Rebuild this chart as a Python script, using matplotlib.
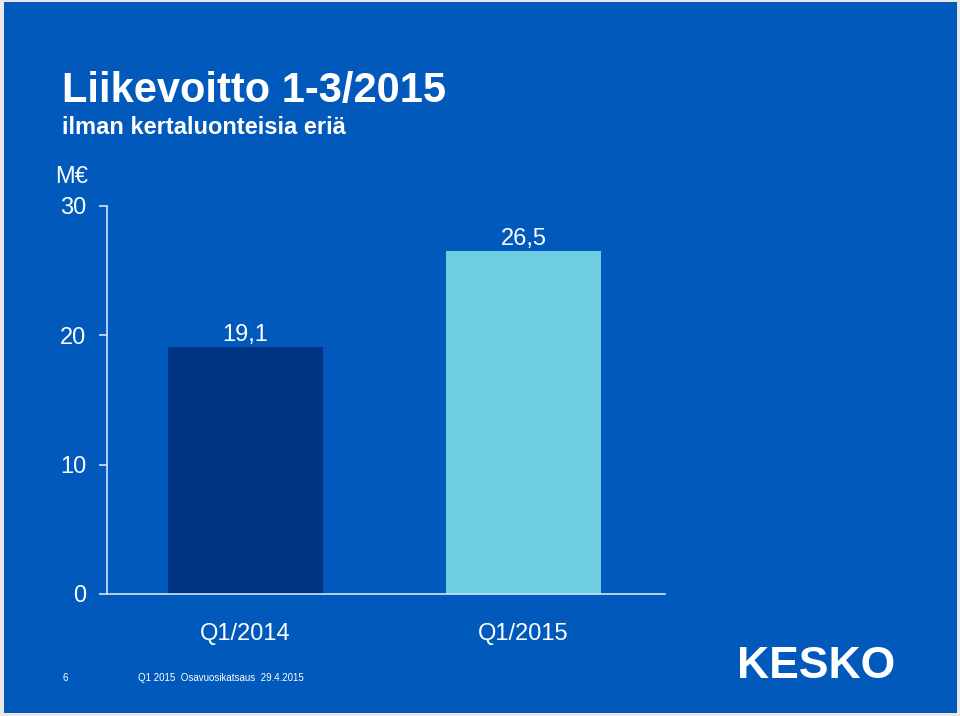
"""
Liikevoitto 1-3/2015 bar chart (Kesko Q1 2015 slide).
"""
import matplotlib.pyplot as plt
from matplotlib.patches import Rectangle

categories = ["Q1/2014", "Q1/2015"]
values = [19.1, 26.5]
value_labels = ["19,1", "26,5"]
y_ticks = [0, 10, 20, 30]

BG = "#0059BB"
BAR_COLORS = ["#003381", "#6FCDE2"]
AXIS_COLOR = "#CFE6F5"
FONT = "Liberation Sans"

plt.rcParams["font.family"] = [FONT, "DejaVu Sans"]

fig = plt.figure(figsize=(9.6, 7.16), dpi=100)
fig.patch.set_facecolor("#E8E8E8")
fig.patches.append(Rectangle((4 / 960, 3 / 716), 953 / 960, 711 / 716,
                             transform=fig.transFigure, facecolor=BG,
                             edgecolor="none", zorder=-10))

ax = fig.add_axes([107 / 960, 1 - 594 / 716, 558 / 960, 388 / 716])
ax.set_facecolor("none")
ax.set_zorder(5)

x = list(range(len(categories)))
ax.bar(x, values, width=0.558, color=BAR_COLORS, zorder=2)
for xi, v, lab in zip(x, values, value_labels):
    ax.text(xi, v + 0.1, lab, ha="center", va="bottom",
            fontsize=17, color="white")

ax.set_xlim(-0.498, 1.509)
ax.set_ylim(0, 30)
ax.set_yticks(y_ticks)
ax.set_yticklabels([str(t) for t in y_ticks], fontsize=17, color="white")
ax.set_xticks(x)
ax.set_xticklabels(categories, fontsize=17, color="white")
ax.tick_params(axis="y", direction="out", length=6, width=1.2,
               color=AXIS_COLOR, pad=9)
ax.tick_params(axis="x", length=0, pad=21)

for side in ["top", "right"]:
    ax.spines[side].set_visible(False)
for side in ["left", "bottom"]:
    ax.spines[side].set_color(AXIS_COLOR)
    ax.spines[side].set_linewidth(1.2)

# titles
fig.text(62 / 960, 1 - 91 / 716, "Liikevoitto 1-3/2015", fontsize=30,
         fontweight="bold", color="white", va="center", ha="left")
fig.text(62 / 960, 1 - 127 / 716, "ilman kertaluonteisia eriä", fontsize=17,
         fontweight="bold", color="white", va="center", ha="left")
fig.text(55 / 960, 1 - 177 / 716, "M€", fontsize=17, color="white",
         va="center", ha="left")

# footer
fig.text(65 / 960, 1 - 678 / 716, "6", fontsize=7, color="white",
         va="center", ha="center")
fig.text(138 / 960, 1 - 678 / 716, "Q1 2015  Osavuosikatsaus  29.4.2015",
         fontsize=7, color="white", va="center", ha="left")
fig.text(816 / 960, 1 - 667 / 716, "KESKO", fontsize=32, fontweight="bold",
         color="white", va="center", ha="center")

fig.savefig("out.png", dpi=100, facecolor=fig.get_facecolor())
